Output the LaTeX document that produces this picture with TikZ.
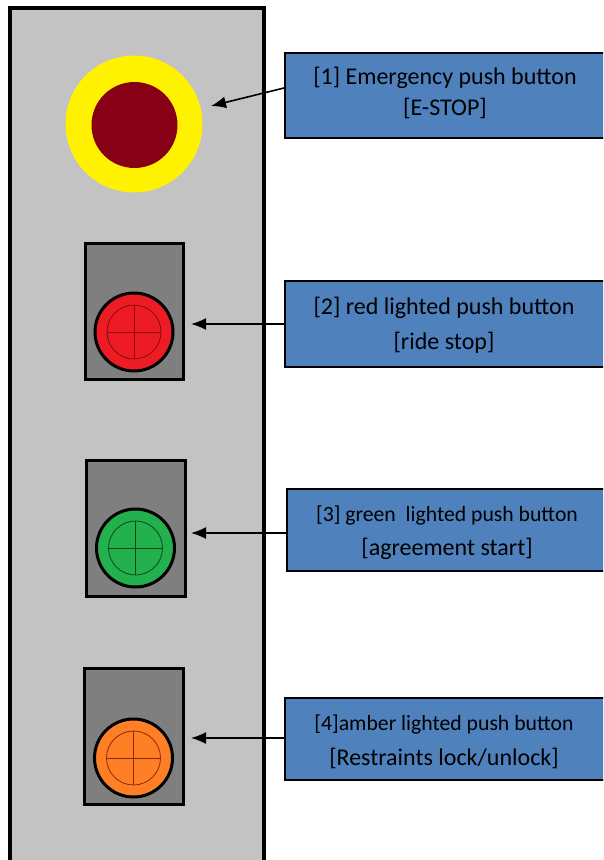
\documentclass[tikz,border=0pt]{standalone}
\usepackage{fontspec}
\setmainfont{Carlito}
\usetikzlibrary{arrows.meta,calc}
\definecolor{panelgray}{HTML}{C3C3C3}
\definecolor{housegray}{HTML}{7F7F7F}
\definecolor{boxblue}{HTML}{4F81BD}
\definecolor{estopyellow}{HTML}{FFF200}
\definecolor{estopred}{HTML}{880015}
\definecolor{btnred}{HTML}{ED1C24}
\definecolor{btnredline}{HTML}{8B0A0A}
\definecolor{btngreen}{HTML}{22B14C}
\definecolor{btngreenline}{HTML}{0B4A1E}
\definecolor{btnorange}{HTML}{FF7F27}
\definecolor{btnorangeline}{HTML}{8A2A05}
\tikzset{
  housing/.style={draw=black, line width=3pt, fill=housegray},
  lamp/.style={circle, draw=black, line width=3pt, minimum size=78pt, inner sep=0pt},
  labelbox/.style={draw=black, line width=2pt, fill=boxblue, rectangle, anchor=north west, inner sep=0pt},
  labeltext/.style={font=\fontsize{24}{28}\selectfont, inner sep=0pt},
  smalltext/.style={font=\fontsize{21.7}{26}\selectfont, inner sep=0pt},
  pointer/.style={draw=black, line width=1.6pt, -{Latex[length=15pt,width=12pt]}}
}
\newcommand{\crosshair}[2]{%
  \draw[#2, line width=0.8pt] (#1) circle (27pt);
  \draw[#2, line width=0.8pt] ($(#1)+(-27,0)$) -- ($(#1)+(27,0)$);
  \draw[#2, line width=0.8pt] ($(#1)+(0,-27)$) -- ($(#1)+(0,27)$);
}
\begin{document}
\begin{tikzpicture}[x=1pt, y=-1pt]
\clip (0,0) rectangle (603,860);
\fill[white] (0,0) rectangle (603,860);
% panel
\draw[line width=3.5pt, fill=panelgray] (10,8) rectangle (264,880);

% E-stop
\node[circle, fill=estopyellow, minimum size=137pt, inner sep=0pt] (estop) at (134,124) {};
\node[circle, fill=estopred, minimum size=86pt, inner sep=0pt] (estopcap) at (134.5,125) {};

% housings
\draw[housing] (85,243) rectangle (183,379);
\draw[housing] (86,460) rectangle (185,596);
\draw[housing] (84,668) rectangle (183,804);

% lamps
\node[lamp, fill=btnred] (red) at (134,332) {};
\crosshair{red}{btnredline}
\node[lamp, fill=btngreen] (green) at (135.5,548) {};
\crosshair{green}{btngreenline}
\node[lamp, fill=btnorange] (amber) at (133.5,758) {};
\crosshair{amber}{btnorangeline}

% label boxes
\node[labelbox, minimum width=330pt, minimum height=85pt] (b1) at (284,52) {};
\node[labeltext] (t1a) at (445,78) {[1] Emergency push button};
\node[labeltext] (t1b) at (445,108) {[E-STOP]};

\node[labelbox, minimum width=330pt, minimum height=86pt] (b2) at (284,280) {};
\node[labeltext] (t2a) at (444,308) {[2] red lighted push button};
\node[labeltext] (t2b) at (444,343) {[ride stop]};

\node[labelbox, minimum width=330pt, minimum height=82pt] (b3) at (286,488) {};
\node[smalltext] (t3a) at (447,516) {[3] green\ \ lighted push button};
\node[labeltext] (t3b) at (447,549) {[agreement start]};

\node[labelbox, minimum width=330pt, minimum height=82pt] (b4) at (284,697) {};
\node[smalltext] (t4a) at (444,725) {[4]amber lighted push button};
\node[labeltext] (t4b) at (444,758) {[Restraints lock/unlock]};

% arrow targets
\coordinate (p1) at (211,106);
\coordinate (p2) at (191,324);
\coordinate (p3) at (191,533);
\coordinate (p4) at (191,738);

\draw[pointer] (b1.west |- 0,88) -- (p1);
\draw[pointer] (b2.west |- 0,324) -- (p2);
\draw[pointer] (b3.west |- 0,533) -- (p3);
\draw[pointer] (b4.west |- 0,738) -- (p4);
\end{tikzpicture}
\end{document}
